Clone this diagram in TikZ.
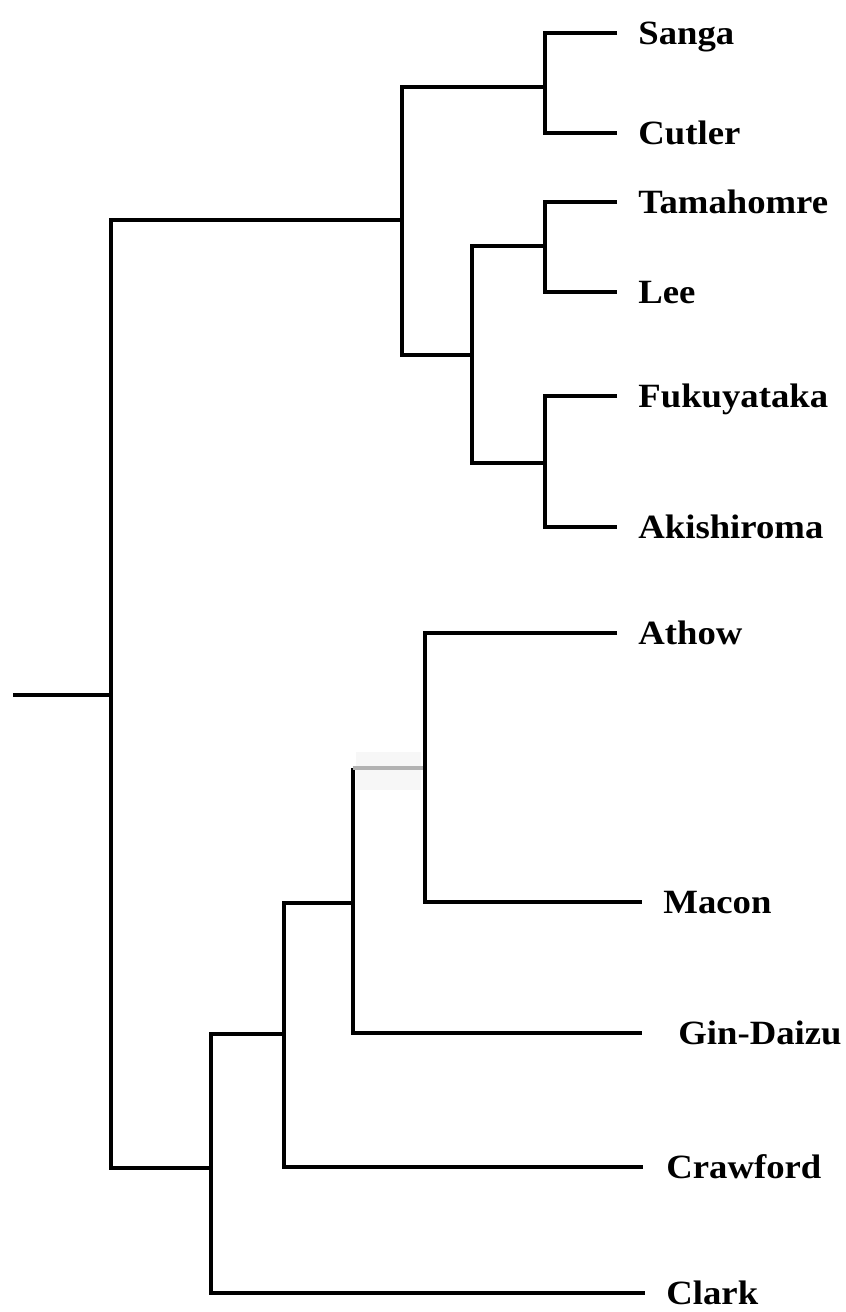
\documentclass[tikz,border=0pt]{standalone}
\usepackage{fontspec}
\setmainfont{Liberation Serif}[FakeStretch=1.08]
\usetikzlibrary{positioning}

\tikzset{
    branch/.style={line width=2.2pt,black},
    fadedbranch/.style={line width=2.2pt,gray!60},
    taxon/.style={anchor=west,inner xsep=10.5pt,inner ysep=0pt,
        text height=11.2pt,text depth=0pt,
        font=\fontsize{17}{20}\selectfont\bfseries}
}

\begin{document}
\begin{tikzpicture}[>=stealth,x=0.5pt,y=-0.5pt]

                \useasboundingbox (0,0) rectangle (846,1312);

                \coordinate (stub) at (13,695);
                \coordinate (r) at (111,695);
                \coordinate (top) at (402,220);
                \coordinate (sc) at (545,87);
                \coordinate (tf) at (472,355);
                \coordinate (tl) at (545,246);
                \coordinate (fa) at (545,463);
                \coordinate (bot) at (211,1168);
                \coordinate (cg) at (284,1034);
                \coordinate (gm) at (353,903);
                \coordinate (am) at (425,768);
                \coordinate (gmtop) at (gm |- am);

                \node[taxon] (sanga) at (617,33) {Sanga};
                \node[taxon] (cutler) at (617,133) {Cutler};
                \node[taxon] (tamahomre) at (617,202) {Tamahomre};
                \node[taxon] (lee) at (617,292) {Lee};
                \node[taxon] (fukuyataka) at (617,396) {Fukuyataka};
                \node[taxon] (akishiroma) at (617,527) {Akishiroma};
                \node[taxon] (athow) at (617,633) {Athow};
                \node[taxon] (macon) at (642,902) {Macon};
                \node[taxon,inner xsep=18pt] (gindaizu) at (642,1033) {Gin-Daizu};
                \node[taxon,inner xsep=11.5pt] (crawford) at (643,1167) {Crawford};
                \node[taxon,inner xsep=10.5pt] (clark) at (645,1293) {Clark};

                \fill[gray!6] (356,752) rectangle (421,790);

                \draw[branch] (stub) -- (r);
                \draw[branch] (top) -| (r) |- (bot);

                \draw[branch] (sc) -| (top) |- (tf);
                \draw[branch] (sanga) -| (sc) |- (cutler);
                \draw[branch] (tl) -| (tf) |- (fa);
                \draw[branch] (tamahomre) -| (tl) |- (lee);
                \draw[branch] (fukuyataka) -| (fa) |- (akishiroma);

                \draw[branch] (cg) -| (bot) |- (clark);
                \draw[branch] (gm) -| (cg) |- (crawford);
                \draw[branch] (gmtop) |- (gindaizu);
                \draw[fadedbranch] (am) -- (gmtop);
                \draw[branch] (athow) -| (am) |- (macon);

\end{tikzpicture}
\end{document}
